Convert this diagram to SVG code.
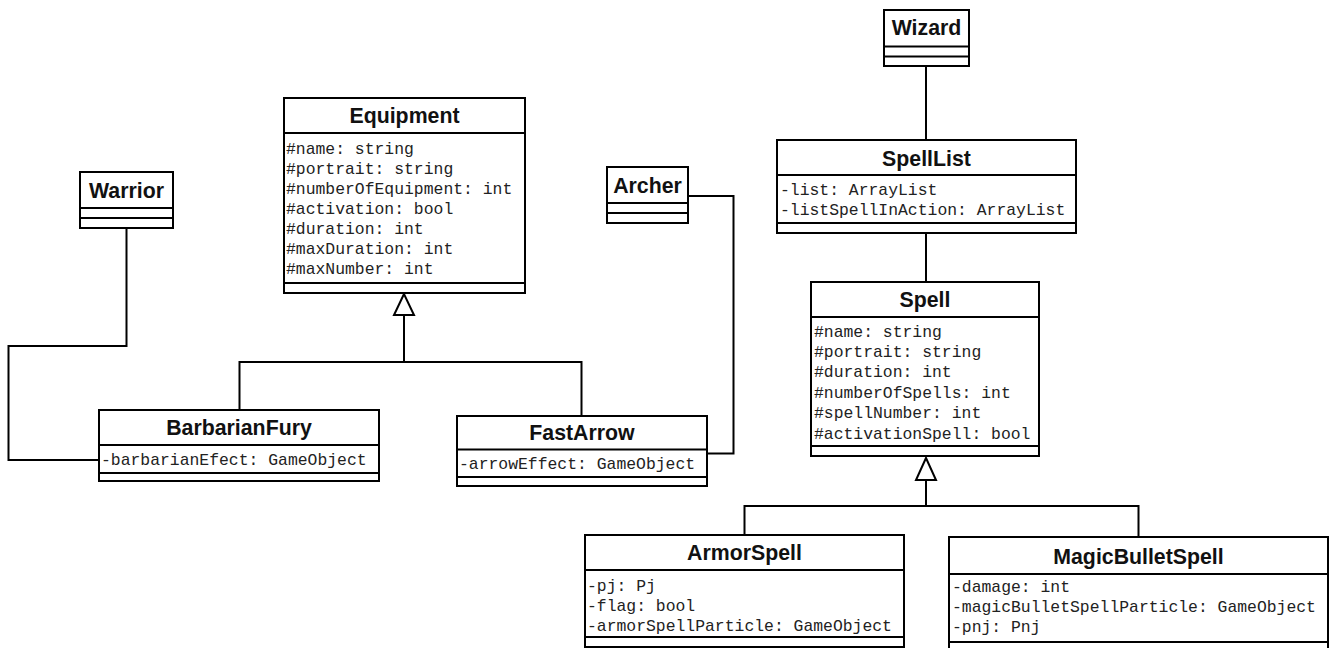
<svg xmlns="http://www.w3.org/2000/svg" width="1335" height="648" viewBox="0 0 1335 648">
  <style>
    .box { fill: #ffffff; stroke: #000000; stroke-width: 2; }
    .div { stroke: #000000; stroke-width: 2; }
    .title { font-family: "Liberation Sans", Arial, sans-serif; font-weight: bold; font-size: 21.3px; fill: #111111; text-anchor: middle; }
    .attr { font-family: "Liberation Mono", "Courier New", monospace; font-size: 16.4px; fill: #222222; }
    .wire { fill: none; stroke: #000000; stroke-width: 2; }
    .gen { fill: #ffffff; stroke: #000000; stroke-width: 2; stroke-linejoin: miter; }
  </style>
  <rect width="1335" height="648" fill="#ffffff"/>

  <!-- associations and generalizations -->
  <g id="connectors">
    <polyline class="wire" points="126.5,228 126.5,346 8.5,346 8.5,460 99,460"/>
    <polyline class="wire" points="239.5,410 239.5,362 581.5,362 581.5,416"/>
    <line class="wire" x1="404" y1="362" x2="404" y2="315"/>
    <polygon class="gen" points="404,294 394,315 414,315"/>
    <polyline class="wire" points="688,196 733.5,196 733.5,453.5 707,453.5"/>
    <line class="wire" x1="926" y1="66" x2="926" y2="140"/>
    <line class="wire" x1="926" y1="233" x2="926" y2="282"/>
    <polyline class="wire" points="744.5,535 744.5,506 1138.5,506 1138.5,537"/>
    <line class="wire" x1="926" y1="506" x2="926" y2="480"/>
    <polygon class="gen" points="926,458 916,480 936,480"/>
  </g>

  <g id="Warrior">
    <rect class="box" x="80" y="172" width="93" height="56"/>
    <line class="div" x1="80" y1="208" x2="173" y2="208"/>
    <line class="div" x1="80" y1="218" x2="173" y2="218"/>
    <text class="title" x="126.5" y="198">Warrior</text>
  </g>

  <g id="Equipment">
    <rect class="box" x="284" y="98" width="241" height="195"/>
    <line class="div" x1="284" y1="133" x2="525" y2="133"/>
    <line class="div" x1="284" y1="283" x2="525" y2="283"/>
    <text class="title" x="404.5" y="123">Equipment</text>
    <text class="attr" x="286" y="153.5">#name: string</text>
    <text class="attr" x="286" y="173.5">#portrait: string</text>
    <text class="attr" x="286" y="193.5">#numberOfEquipment: int</text>
    <text class="attr" x="286" y="213.5">#activation: bool</text>
    <text class="attr" x="286" y="233.5">#duration: int</text>
    <text class="attr" x="286" y="253.5">#maxDuration: int</text>
    <text class="attr" x="286" y="273.5">#maxNumber: int</text>
  </g>

  <g id="Archer">
    <rect class="box" x="607" y="167" width="81" height="56"/>
    <line class="div" x1="607" y1="203" x2="688" y2="203"/>
    <line class="div" x1="607" y1="213" x2="688" y2="213"/>
    <text class="title" x="647.5" y="192.5">Archer</text>
  </g>

  <g id="BarbarianFury">
    <rect class="box" x="99" y="410" width="280" height="71"/>
    <line class="div" x1="99" y1="445" x2="379" y2="445"/>
    <line class="div" x1="99" y1="473" x2="379" y2="473"/>
    <text class="title" x="239" y="435">BarbarianFury</text>
    <text class="attr" x="101" y="465">-barbarianEfect: GameObject</text>
  </g>

  <g id="FastArrow">
    <rect class="box" x="457" y="416" width="250" height="70"/>
    <line class="div" x1="457" y1="449.5" x2="707" y2="449.5"/>
    <line class="div" x1="457" y1="477" x2="707" y2="477"/>
    <text class="title" x="582" y="440">FastArrow</text>
    <text class="attr" x="459" y="468.5">-arrowEffect: GameObject</text>
  </g>

  <g id="Wizard">
    <rect class="box" x="884" y="10" width="85" height="56"/>
    <line class="div" x1="884" y1="46.5" x2="969" y2="46.5"/>
    <line class="div" x1="884" y1="56.5" x2="969" y2="56.5"/>
    <text class="title" x="926.5" y="35">Wizard</text>
  </g>

  <g id="SpellList">
    <rect class="box" x="777" y="140" width="299" height="93"/>
    <line class="div" x1="777" y1="175" x2="1076" y2="175"/>
    <line class="div" x1="777" y1="223" x2="1076" y2="223"/>
    <text class="title" x="926.5" y="166">SpellList</text>
    <text class="attr" x="780" y="194.5">-list: ArrayList</text>
    <text class="attr" x="780" y="214.5">-listSpellInAction: ArrayList</text>
  </g>

  <g id="Spell">
    <rect class="box" x="811" y="282" width="228" height="174"/>
    <line class="div" x1="811" y1="317" x2="1039" y2="317"/>
    <line class="div" x1="811" y1="446" x2="1039" y2="446"/>
    <text class="title" x="925" y="306.5">Spell</text>
    <text class="attr" x="814" y="336.5">#name: string</text>
    <text class="attr" x="814" y="356.9">#portrait: string</text>
    <text class="attr" x="814" y="377.3">#duration: int</text>
    <text class="attr" x="814" y="397.7">#numberOfSpells: int</text>
    <text class="attr" x="814" y="418.1">#spellNumber: int</text>
    <text class="attr" x="814" y="438.5">#activationSpell: bool</text>
  </g>

  <g id="ArmorSpell">
    <rect class="box" x="585" y="535" width="319" height="112"/>
    <line class="div" x1="585" y1="570" x2="904" y2="570"/>
    <line class="div" x1="585" y1="637" x2="904" y2="637"/>
    <text class="title" x="744.5" y="560">ArmorSpell</text>
    <text class="attr" x="587" y="590.5">-pj: Pj</text>
    <text class="attr" x="587" y="610.5">-flag: bool</text>
    <text class="attr" x="587" y="630.5">-armorSpellParticle: GameObject</text>
  </g>

  <g id="MagicBulletSpell">
    <rect class="box" x="949" y="537" width="379" height="115"/>
    <line class="div" x1="949" y1="574" x2="1328" y2="574"/>
    <line class="div" x1="949" y1="642" x2="1328" y2="642"/>
    <text class="title" x="1138.5" y="563.5">MagicBulletSpell</text>
    <text class="attr" x="952" y="591.5">-damage: int</text>
    <text class="attr" x="952" y="611.5">-magicBulletSpellParticle: GameObject</text>
    <text class="attr" x="952" y="631.5">-pnj: Pnj</text>
  </g>
</svg>
